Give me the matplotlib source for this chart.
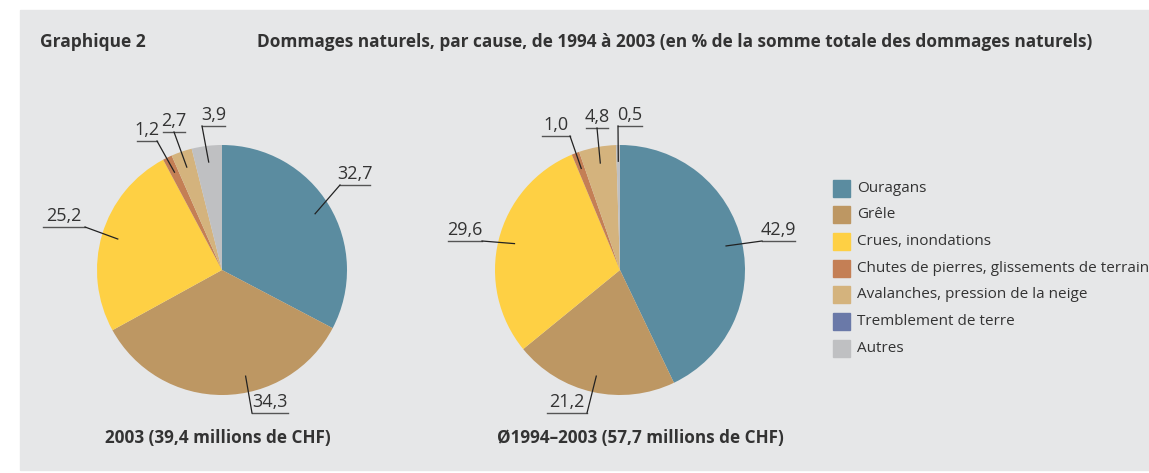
import numpy as np
import matplotlib
matplotlib.use('Agg')
import matplotlib.pyplot as plt
from matplotlib.patches import Rectangle

W, H = 1149, 473

causes = ['Ouragans', 'Grêle', 'Crues, inondations',
          'Chutes de pierres, glissements de terrain',
          'Avalanches, pression de la neige', 'Tremblement de terre', 'Autres']
colors = ['#5b8ca0', '#bd9763', '#fed044', '#c47f55', '#d4b37d', '#6a79a8', '#bfc0c2']

vals_2003 = [32.7, 34.3, 25.2, 1.2, 2.7, 0.0, 3.9]
vals_avg = [42.9, 21.2, 29.6, 1.0, 4.8, 0.0, 0.5]

title = 'Dommages naturels, par cause, de 1994 à 2003 (en % de la somme totale des dommages naturels)'
caption_2003 = '2003 (39,4 millions de CHF)'
caption_avg = 'Ø1994–2003 (57,7 millions de CHF)'

plt.rcParams['font.family'] = ['Open Sans', 'DejaVu Sans']
txt = '#333333'
num_font = ['Liberation Sans Narrow', 'Open Sans', 'DejaVu Sans']

fig = plt.figure(figsize=(W / 100, H / 100), dpi=100)
ax = fig.add_axes([0, 0, 1, 1])

ax.add_patch(Rectangle((20, 10), W - 20, 460, color='#e6e7e8', zorder=0))

ax.text(40, 42, 'Graphique 2', fontsize=12.5, fontweight='bold', color=txt, va='center')
ax.text(257, 42, title, fontsize=12.4, fontweight='bold', color=txt, va='center')

R = 125
# label layout per slice: underline x0, x1, y, leader anchor ('l', 'r', 'm'), angle shift
lay_2003 = [(340, 370, 185, 'l', 0), (252, 288, 413, 'l', 12), (43, 85, 227, 'r', 0),
            (137, 157, 141, 'r', 0), (163, 185, 132, 'm', 0), None, (202, 225, 126, 'l', 0)]
lay_avg = [(762, 795, 241, 'l', 0), (547, 587, 413, 'r', 0), (448, 482, 241, 'r', 0),
           (542, 570, 136, 'r', 0), (586, 608, 128, 'm', 0), None, (618, 642, 126, 'l', 0)]


def draw_pie(cx, cy, vals, lay, caption, cap_x):
    # y axis inverted: startangle -90 + counterclock -> clockwise from top on screen
    ax.pie(vals, colors=colors, startangle=-90, counterclock=True, radius=R,
           center=(cx, cy), frame=True, wedgeprops=dict(linewidth=0))
    cum = 0.0
    for v, l in zip(vals, lay):
        mid = cum + v / 2
        cum += v
        if l is None or v == 0:
            continue
        x0, x1, y, side, shift = l
        ang = np.deg2rad(-90 + mid * 3.6 - shift)
        px = cx + 0.87 * R * np.cos(ang)
        py = cy + 0.87 * R * np.sin(ang)
        ax.plot([x0, x1], [y, y], color='#555555', lw=1.0)
        lx = {'l': x0, 'r': x1, 'm': (x0 + x1) / 2}[side]
        ax.plot([lx, px], [y, py], color='#222222', lw=0.9)
        ax.text((x0 + x1) / 2, y - 2, f'{v:.1f}'.replace('.', ','), fontsize=13,
                family=num_font, color=txt, ha='center', va='bottom')
    ax.text(cap_x, 438, caption, fontsize=12.3, fontweight='bold', color=txt,
            ha='left', va='center')


draw_pie(222, 270, vals_2003, lay_2003, caption_2003, 105)
draw_pie(620, 270, vals_avg, lay_avg, caption_avg, 497)
ax.set_xlim(0, W)
ax.set_ylim(H, 0)
ax.set_aspect('auto')
ax.axis('off')

for i, (c, col) in enumerate(zip(causes, colors)):
    y = 188 + i * 26.7
    ax.add_patch(Rectangle((833, y - 8.5), 17, 17, color=col))
    ax.text(857, y, c, fontsize=11, color=txt, va='center')

fig.savefig('out.png', dpi=100)
